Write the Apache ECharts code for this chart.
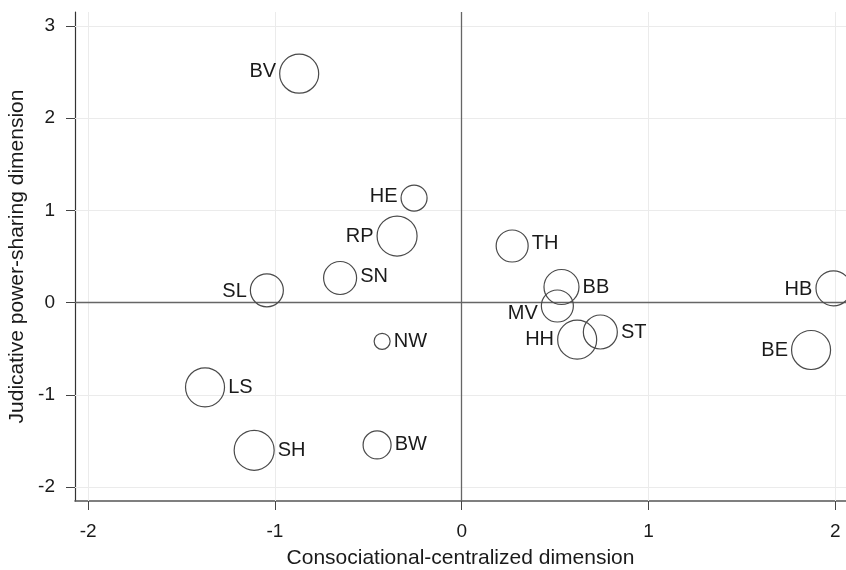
<!DOCTYPE html>
<html>
<head>
<meta charset="utf-8">
<title>Judicative power-sharing vs consociational-centralized dimension</title>
<script src="https://cdn.jsdelivr.net/npm/echarts@6/dist/echarts.min.js"></script>
<style>
  html, body { margin: 0; padding: 0; background: #fff; }
  #chart { width: 846px; height: 570px; }
</style>
</head>
<body>
<div id="chart"></div>
<script>
// Kantone / Fälle
var codes = ['BV', 'HE', 'RP', 'SN', 'SL', 'NW', 'LS', 'SH', 'BW', 'TH', 'BB', 'MV', 'HH', 'ST', 'HB', 'BE'];
// x: Consociational-centralized dimension
var xValues = [-0.87, -0.255, -0.346, -0.651, -1.043, -0.426, -1.374, -1.111, -0.453, 0.27, 0.534, 0.512, 0.618, 0.742, 1.99, 1.87];
// y: Judicative power-sharing dimension
var yValues = [2.483, 1.134, 0.722, 0.267, 0.133, -0.42, -0.919, -1.602, -1.544, 0.614, 0.169, -0.037, -0.402, -0.319, 0.155, -0.514];
// Gewicht (Blasendurchmesser)
var weights = [39, 26, 40, 33, 33, 16, 39, 40, 28, 32, 35, 32, 39, 34, 35, 39];

var xTicks = [-2, -1, 0, 1, 2];
var yTicks = [-2, -1, 0, 1, 2, 3];

// Beschriftung links oder rechts vom Kreis
var leftLabels = {BV: [0, -2], HE: [0, -2], RP: [0, 0], SL: [0, 1], MV: [0, 7], HH: [0, 0], HB: [0, 1], BE: [0, 0]};
var rightOffsets = {TH: [0, -3], SN: [0, -1]};

var FONT = 'Liberation Sans, Arial, Helvetica, sans-serif';
var TEXT = '#1a1a1a';

var points = codes.map(function (c, i) {
	var isLeft = leftLabels.hasOwnProperty(c);
	return {
		name: c,
		value: [xValues[i], yValues[i], weights[i]],
		label: {
			position: isLeft ? 'left' : 'right',
			offset: isLeft ? leftLabels[c] : (rightOffsets[c] || [0, 0])
		}
	};
});

// Gitterlinien über markLine, damit sie exakt auf den Ticks liegen
var gridLines = [];
xTicks.forEach(function (v) {
	if (v !== 0) gridLines.push({xAxis: v, lineStyle: {color: '#ebebeb', width: 1, type: 'solid'}});
});
yTicks.forEach(function (v) {
	if (v !== 0) gridLines.push({yAxis: v, lineStyle: {color: '#ebebeb', width: 1, type: 'solid'}});
});
var zeroLines = [
	{xAxis: 0, lineStyle: {color: '#666', width: 1.3, type: 'solid'}},
	{yAxis: 0, lineStyle: {color: '#666', width: 1.3, type: 'solid'}}
];

var myChart = echarts.init(document.getElementById('chart'));
var option = {
	animation: false,
	backgroundColor: '#fff',
	grid: {left: 75, right: 0, top: 12, bottom: 69, containLabel: false, outerBoundsMode: 'none'},
	xAxis: {
		type: 'value',
		min: -2.07,
		max: 2.057,
		name: 'Consociational-centralized dimension',
		nameLocation: 'middle',
		nameGap: 47,
		nameTextStyle: {fontFamily: FONT, fontSize: 21, color: TEXT},
		axisLine: {show: true, onZero: false, lineStyle: {color: '#555', width: 1.6}},
		axisTick: {show: true, customValues: xTicks, length: 9, lineStyle: {color: '#444', width: 1}},
		axisLabel: {customValues: xTicks, margin: 21, fontFamily: FONT, fontSize: 19, color: TEXT},
		splitLine: {show: false}
	},
	yAxis: {
		type: 'value',
		min: -2.152,
		max: 3.152,
		name: 'Judicative power-sharing dimension',
		nameLocation: 'middle',
		nameGap: 45,
		nameTextStyle: {fontFamily: FONT, fontSize: 21, color: TEXT},
		axisLine: {show: true, onZero: false, lineStyle: {color: '#333', width: 1.2}},
		axisTick: {show: true, customValues: yTicks, length: 9, lineStyle: {color: '#444', width: 1}},
		axisLabel: {customValues: yTicks, margin: 20, fontFamily: FONT, fontSize: 19, color: TEXT},
		splitLine: {show: false}
	},
	series: [
		{
			name: 'grid',
			type: 'scatter',
			data: [],
			silent: true,
			markLine: {
				silent: true,
				symbol: ['none', 'none'],
				label: {show: false},
				animation: false,
				data: gridLines.concat(zeroLines)
			}
		},
		{
			name: 'cases',
			type: 'scatter',
			symbol: 'circle',
			symbolSize: function (val) { return val[2]; },
			itemStyle: {color: 'rgba(255,255,255,0)', borderColor: '#4a4a4a', borderWidth: 1.2, opacity: 1},
			label: {
				show: true,
				formatter: '{b}',
				distance: 3,
				fontFamily: FONT,
				fontSize: 20,
				color: TEXT
			},
			emphasis: {disabled: true},
			data: points,
			z: 5
		}
	]
};
myChart.setOption(option);
</script>
</body>
</html>
